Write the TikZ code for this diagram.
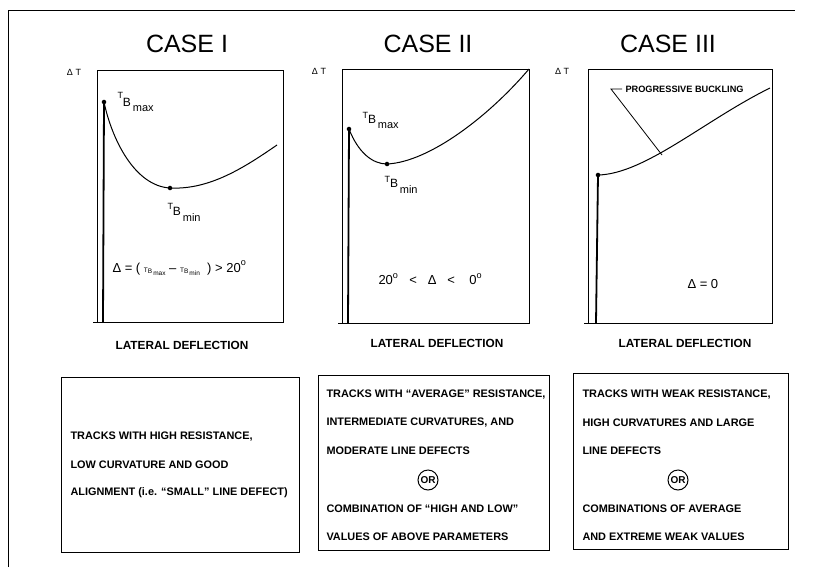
\documentclass[tikz,border=0pt]{standalone}
\usepackage{fontspec}
\setmainfont{Liberation Sans}
\usepackage{tikz}

\newcommand{\tblab}[3]{{\fontsize{9}{9}\selectfont T}\raisebox{#2}{\fontsize{12}{12}\selectfont B}\raisebox{#3}{\fontsize{11}{11}\selectfont\,#1}}
\newcommand{\tbtiny}[1]{{\fontsize{6.5}{6.5}\selectfont T\raisebox{-1.5pt}{B}\raisebox{-3pt}{\,#1}}}
\newcommand{\dg}{\raisebox{2pt}{\textsuperscript{o}}}

\begin{document}
\begin{tikzpicture}[x=1pt, y=-1pt, line width=1pt,
    casetitle/.style={font=\fontsize{25}{25}\selectfont},
    axislab/.style={font=\fontsize{9}{9}\selectfont},
    xlab/.style={font=\fontsize{11.8}{11.8}\selectfont\bfseries},
    formula/.style={anchor=west, inner sep=0pt, font=\fontsize{13}{13}\selectfont},
    tblabel/.style={anchor=west, inner sep=0pt},
    dot/.style={circle, fill=black, inner sep=1.6pt},
    boxtext/.style={anchor=west, inner sep=0pt, font=\fontsize{10.9}{10.9}\selectfont\bfseries},
    orcircle/.style={circle, draw, inner sep=.5pt, minimum size=20pt, font=\fontsize{10}{10}\selectfont\bfseries}]
  \useasboundingbox (0,0) rectangle (827,571);
  \draw (8,567) -- (8,10) -- (795,10);

  % case I
  \node[casetitle] (titleA) at (187,44) {CASE I};
  \node[axislab] (dtA) at (74,72) {Δ T};
  \draw (93,322) -- (283,322) -- (283,70) -- (97,70) -- (97,322);
  \node[dot] (maxA) at (104,102) {};
  \node[dot] (minA) at (170,188) {};
  \draw[line width=1.8pt] (103,322) -- (maxA.center);
  \draw (maxA.center) .. controls (112,140) and (135,186) .. (minA.center)
        .. controls (210,190) and (245,167) .. (277,145);
  \node[tblabel] (maxlabA) at (117,102) {\tblab{max}{-8pt}{-13pt}};
  \node[tblabel] (minlabA) at (167,212) {\tblab{min}{-6pt}{-12pt}};
  \node[formula] (condA) at (112,268) {Δ = (\ \tbtiny{max}\ – \tbtiny{min}\ \ ) > 20\dg};
  \node[xlab] (latA) at (182,345) {LATERAL DEFLECTION};
  \draw (61,377) rectangle (299,552);
  \node[boxtext] (textA1) at (70,437) {TRACKS WITH HIGH RESISTANCE,};
  \node[boxtext] (textA2) at (70,465) {LOW CURVATURE AND GOOD};
  \node[boxtext] (textA3) at (70,493) {ALIGNMENT (i.e. ``SMALL'' LINE DEFECT)};

  % case II
  \node[casetitle] (titleB) at (428,44) {CASE II};
  \node[axislab] (dtB) at (319,71) {Δ T};
  \draw (338,323) -- (529,323) -- (529,69) -- (342,69) -- (342,323);
  \node[dot] (maxB) at (349,129) {};
  \node[dot] (minB) at (387,164) {};
  \draw[line width=1.8pt] (348,323) -- (maxB.center);
  \draw (maxB.center) .. controls (358,152) and (372,164) .. (minB.center)
        .. controls (430,162) and (490,115) .. (529,69);
  \node[tblabel] (maxlabB) at (362,120) {\tblab{max}{-5pt}{-10pt}};
  \node[tblabel] (minlabB) at (384,185) {\tblab{min}{-5pt}{-11pt}};
  \node[formula] (condB) at (378,279) {20\dg\ \ \ <\ \ \ Δ\ \ \ <\ \ \ \ 0\dg};
  \node[xlab] (latB) at (437,343) {LATERAL DEFLECTION};
  \draw (318,375) rectangle (549,550);
  \node[boxtext] (textB1) at (326,395) {TRACKS WITH ``AVERAGE'' RESISTANCE,};
  \node[boxtext] (textB2) at (326,423) {INTERMEDIATE CURVATURES, AND};
  \node[boxtext] (textB3) at (326,451) {MODERATE LINE DEFECTS};
  \node[orcircle] (orB) at (428,480) {OR};
  \node[boxtext] (textB4) at (326,509) {COMBINATION OF ``HIGH AND LOW''};
  \node[boxtext] (textB5) at (326,537) {VALUES OF ABOVE PARAMETERS};

  % case III
  \node[casetitle] (titleC) at (668,44) {CASE III};
  \node[axislab] (dtC) at (562,71) {Δ T};
  \draw (584,323) -- (772,323) -- (772,69) -- (588,69) -- (588,323);
  \node[dot] (startC) at (598,175) {};
  \draw[line width=1.8pt] (596,323) -- (startC.center);
  \draw (startC.center) .. controls (645,174) and (705,120) .. (770,88);
  \coordinate (tipC) at (662,155);
  \node[anchor=west, inner sep=0pt, font=\fontsize{9.2}{9.2}\selectfont\bfseries] (buckC) at (625,89) {PROGRESSIVE BUCKLING};
  \draw[line width=.8pt] ([xshift=-3pt]buckC.west) -- (611,89) -- (tipC);
  \node[formula] (condC) at (687,284) {Δ = 0};
  \node[xlab] (latC) at (685,343) {LATERAL DEFLECTION};
  \draw (573,373) rectangle (788,549);
  \node[boxtext] (textC1) at (582,395) {TRACKS WITH WEAK RESISTANCE,};
  \node[boxtext] (textC2) at (582,423) {HIGH CURVATURES AND LARGE};
  \node[boxtext] (textC3) at (582,451) {LINE DEFECTS};
  \node[orcircle] (orC) at (678,480) {OR};
  \node[boxtext] (textC4) at (582,509) {COMBINATIONS OF AVERAGE};
  \node[boxtext] (textC5) at (582,537) {AND EXTREME WEAK VALUES};
\end{tikzpicture}
\end{document}
